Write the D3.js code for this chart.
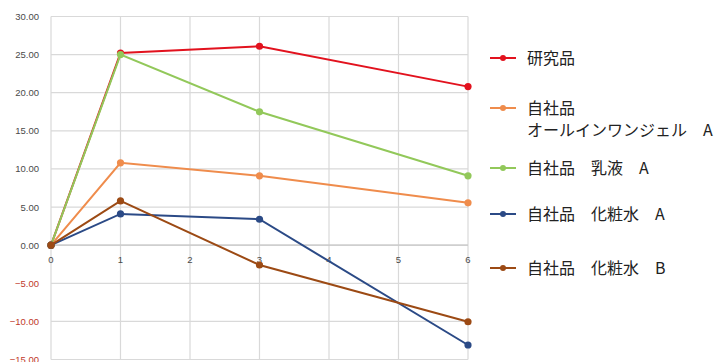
<!DOCTYPE html>
<html>
<head>
<meta charset="utf-8">
<script src="https://cdn.jsdelivr.net/npm/d3@7"></script>
<style>
  body { margin: 0; background: #fff; }
  svg { display: block; }
</style>
</head>
<body>
<div id="chart"></div>
<script>
// 日数と各サンプルの値
const days = [0, 1, 3, 6];
const seriesNames = ["研究品", "自社品\nオールインワンジェル　A", "自社品　乳液　A", "自社品　化粧水　A", "自社品　化粧水　B"];
const seriesColors = ["#e2121e", "#ef8c4c", "#92c85a", "#2b4a86", "#9c4a14"];
const kenkyu = [0, 25.2, 26.1, 20.8];
const allInOne = [0, 10.8, 9.1, 5.55];
const nyueki = [0, 25.0, 17.5, 9.1];
const keshosuiA = [0, 4.1, 3.4, -13.1];
const keshosuiB = [0, 5.8, -2.6, -10.05];
const yTicks = [30, 25, 20, 15, 10, 5, 0, -5, -10, -15];
const xTicks = [0, 1, 2, 3, 4, 5, 6];
const legendY = [58, 108, 168, 214, 268];

const allSeries = [kenkyu, allInOne, nyueki, keshosuiA, keshosuiB];

const width = 727, height = 362;
const svg = d3.select("#chart").append("svg")
  .attr("width", width).attr("height", height);

const x = d3.scaleLinear().domain([0, 6]).range([51, 468]);
const y = d3.scaleLinear().domain([-15, 30]).range([359.5, 16.5]);

// グリッド線
svg.append("g").selectAll("line").data(yTicks).join("line")
  .attr("x1", x(0)).attr("x2", x(6))
  .attr("y1", d => y(d)).attr("y2", d => y(d))
  .attr("stroke", "#d9d9d9").attr("stroke-width", 1.2);

svg.append("g").selectAll("line").data(xTicks).join("line")
  .attr("x1", d => x(d)).attr("x2", d => x(d))
  .attr("y1", y(30)).attr("y2", y(-15))
  .attr("stroke", "#d9d9d9").attr("stroke-width", 1.2);

// 0 の軸線
svg.append("line")
  .attr("x1", x(0)).attr("x2", x(6))
  .attr("y1", y(0)).attr("y2", y(0))
  .attr("stroke", "#c8c8c8").attr("stroke-width", 1.2);

// Y 軸ラベル
svg.append("g").selectAll("text").data(yTicks).join("text")
  .attr("x", 39).attr("y", d => y(d) + 3.5)
  .attr("text-anchor", "end")
  .attr("font-family", "Liberation Sans, Arial, sans-serif")
  .attr("font-size", 9.5)
  .attr("fill", d => d < 0 ? "#c0392b" : "#4a4a4a")
  .text(d => d3.format(".2f")(d));

// X 軸ラベル
svg.append("g").selectAll("text").data(xTicks).join("text")
  .attr("x", d => x(d)).attr("y", y(0) + 18)
  .attr("text-anchor", "middle")
  .attr("font-family", "Liberation Sans, Arial, sans-serif")
  .attr("font-size", 9.5)
  .attr("fill", "#4a4a4a")
  .text(d => d);

// 折れ線
const line = d3.line().x((d, i) => x(days[i])).y(d => y(d));

allSeries.forEach((vals, s) => {
  const g = svg.append("g");
  g.append("path")
    .attr("d", line(vals))
    .attr("fill", "none")
    .attr("stroke", seriesColors[s])
    .attr("stroke-width", 2);
  g.selectAll("circle").data(vals).join("circle")
    .attr("cx", (d, i) => x(days[i]))
    .attr("cy", d => y(d))
    .attr("r", 3.6)
    .attr("fill", seriesColors[s]);
});

// 凡例
const legend = svg.append("g");
seriesNames.forEach((name, s) => {
  const ly = legendY[s];
  legend.append("line")
    .attr("x1", 490).attr("x2", 516)
    .attr("y1", ly).attr("y2", ly)
    .attr("stroke", seriesColors[s]).attr("stroke-width", 2);
  legend.append("circle")
    .attr("cx", 503).attr("cy", ly).attr("r", 3)
    .attr("fill", seriesColors[s]);
  const t = legend.append("text")
    .attr("x", 527).attr("y", ly + 6)
    .attr("font-family", "Noto Sans CJK JP, sans-serif")
    .attr("font-size", 16)
    .attr("fill", "#222");
  name.split("\n").forEach((part, k) => {
    t.append("tspan").attr("x", 527).attr("dy", k === 0 ? 0 : 22).text(part);
  });
});
</script>
</body>
</html>
